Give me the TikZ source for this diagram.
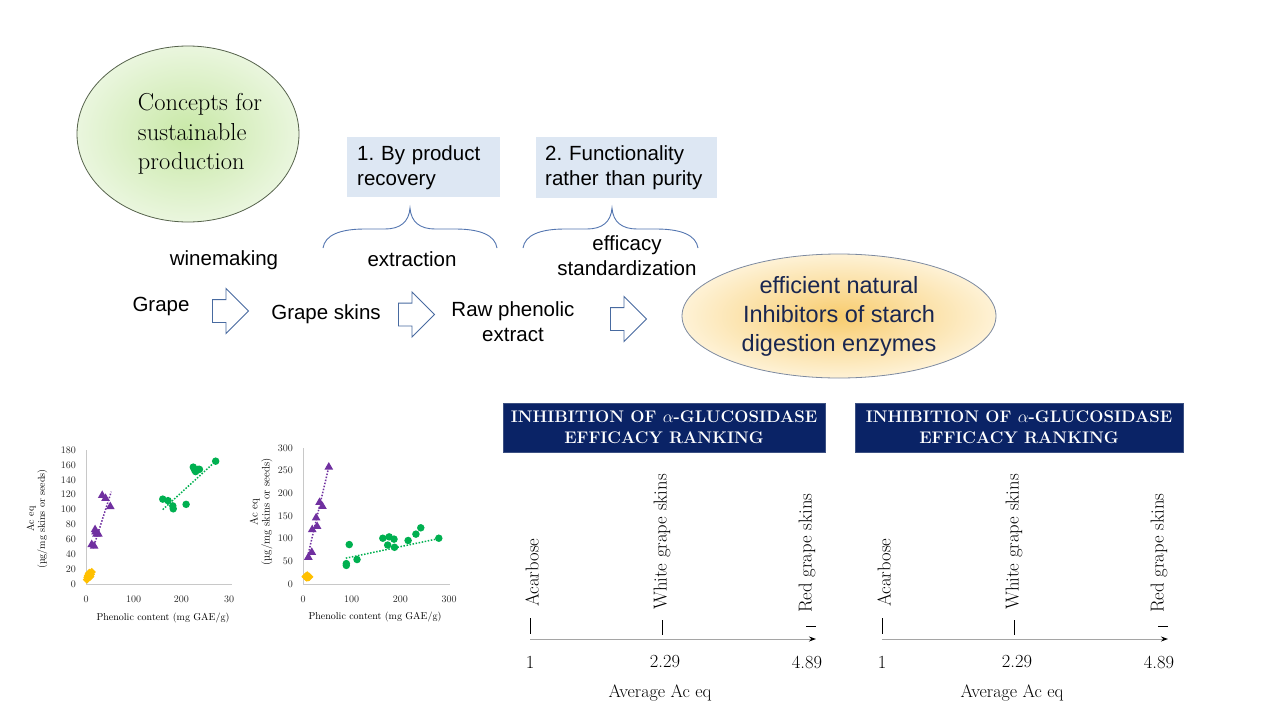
\documentclass[tikz,border=0pt]{standalone}
\usepackage{fontspec}
\newfontfamily\arialf{Liberation Sans}
\usetikzlibrary{shapes.geometric,shapes.arrows,arrows.meta}
\definecolor{navy}{RGB}{10,35,102}
\definecolor{navyborder}{RGB}{60,80,130}
\definecolor{boxblue}{RGB}{221,231,243}
\definecolor{braceblue}{RGB}{84,118,176}
\definecolor{arrowblue}{RGB}{72,106,160}
\definecolor{ptpurple}{RGB}{112,48,160}
\definecolor{ptgreen}{RGB}{0,176,80}
\definecolor{ptyellow}{RGB}{255,192,0}
\definecolor{axisgray}{RGB}{200,200,200}
\definecolor{rankgray}{RGB}{165,165,165}
\definecolor{ellgreenin}{RGB}{200,232,166}
\definecolor{ellgreenout}{RGB}{234,246,222}
\definecolor{greenborder}{RGB}{85,98,75}
\definecolor{ellorangein}{RGB}{248,204,110}
\definecolor{ellorangeout}{RGB}{254,242,214}
\definecolor{orangeborder}{RGB}{125,138,160}
\definecolor{inhibtext}{RGB}{25,38,80}
\frenchspacing
\begin{document}
\begin{tikzpicture}[x=1pt,y=-1pt,
  flowtext/.style={font=\arialf\fontsize{20.5}{25}\selectfont, align=center, inner sep=0pt},
  bluebox/.style={fill=boxblue, draw=none, align=left, inner xsep=10pt, inner ysep=0pt, anchor=north west, font=\arialf\fontsize{20.5}{25}\selectfont},
  bracestyle/.style={draw=braceblue, line width=0.9pt},
  blockarrow/.style={single arrow, draw=arrowblue, fill=white, line width=0.9pt, minimum height=36pt, inner xsep=0pt, inner ysep=11pt, single arrow head extend=11pt, single arrow tip angle=90, single arrow head indent=0pt, anchor=tail},
  axisline/.style={draw=axisgray, line width=0.8pt},
  ticklbl/.style={font=\fontsize{10}{12}\selectfont, inner sep=0pt, text=black!85},
  tri/.style={regular polygon, regular polygon sides=3, fill=ptpurple, inner sep=0pt, minimum size=10pt},
  dot/.style={circle, fill=ptgreen, inner sep=0pt, minimum size=7.5pt},
  dia/.style={diamond, fill=ptyellow, inner sep=0pt, minimum size=8.5pt},
  trendp/.style={draw=ptpurple, line width=1.5pt, dash pattern=on 1.5pt off 1.6pt},
  trendg/.style={draw=ptgreen, line width=1.5pt, dash pattern=on 1.5pt off 1.6pt},
  rankbox/.style={fill=navy, draw=navyborder, line width=0.8pt, text=white, align=center, minimum height=49pt, inner sep=0pt, font=\bfseries\fontsize{16.8}{21}\selectfont},
  ranklbl/.style={rotate=90, anchor=west, inner sep=0pt, font=\fontsize{18.7}{22}\selectfont},
  rankno/.style={inner sep=0pt, font=\fontsize{18.5}{22}\selectfont},
  rtick/.style={draw=black, line width=0.8pt}
]
\useasboundingbox[fill=white] (0,0) rectangle (1280,720);

% ---------- concept ellipse ----------
\node[ellipse, draw=greenborder, line width=0.8pt, inner color=ellgreenin, outer color=ellgreenout, minimum width=222pt, minimum height=176pt, inner sep=0pt] (concepts) at (188,134) {};
\node[align=left, inner sep=0pt, font=\fontsize{24.5}{29.5}\selectfont] (conceptstxt) at (200,134) {Concepts for\\sustainable\\production};

% ---------- blue boxes ----------
\node[bluebox, minimum width=153pt, minimum height=60pt, text width=133pt] (recovery) at (347,137) {1. By product\\recovery};
\node[bluebox, minimum width=181pt, minimum height=61pt, text width=163pt, inner xsep=9pt] (functionality) at (536,137) {2. Functionality\\rather than purity};

% ---------- braces ----------
\draw[bracestyle] (323,248) .. controls (325,235) and (340,229) .. (365,229) -- (385,229) .. controls (400,229) and (409,222) .. (410,208) .. controls (411,222) and (420,229) .. (435,229) -- (455,229) .. controls (480,229) and (495,235) .. (497,248);
\draw[bracestyle] (523,248) .. controls (525,235) and (540,229) .. (565,229) -- (587,229) .. controls (602,229) and (611,222) .. (612,208) .. controls (613,222) and (622,229) .. (637,229) -- (656,229) .. controls (681,229) and (696,235) .. (698,248);

% ---------- process labels ----------
\node[flowtext] (winemaking) at (224,260) {winemaking};
\node[flowtext] (extraction) at (412,259) {extraction};
\node[flowtext] (efficacy) at (627,256) {efficacy\\standardization};

% ---------- flow ----------
\node[flowtext] (grape) at (161,306) {Grape};
\node[blockarrow] (arr1) at (212,311) {};
\node[flowtext] (skins) at (326,314) {Grape skins};
\node[blockarrow] (arr2) at (398,314.5) {};
\node[flowtext] (raw) at (513,322) {Raw phenolic\\extract};
\node[blockarrow] (arr3) at (610,319) {};
\node[ellipse, draw=orangeborder, line width=0.8pt, inner color=ellorangein, outer color=ellorangeout, minimum width=314pt, minimum height=124pt, inner sep=0pt, align=center, text=inhibtext, font=\arialf\fontsize{23.5}{29}\selectfont] (inhib) at (839,316) {efficient natural\\Inhibitors of starch\\digestion enzymes};

% ---------- chart 1 ----------
\begin{scope}[xshift=86pt, yshift=-584pt, x=0.4767pt, y=0.7444pt]
  \coordinate (c1o) at (0,0);
  \coordinate (c1top) at (0,180);
  \coordinate (c1right) at (306,0);
  \draw[axisline] (c1top) -- (c1o) -- (c1right);
  \foreach \v in {0,20,...,180} \node[ticklbl, anchor=east, xshift=-10pt] (c1y\v) at (0,\v) {\v};
  \foreach \v/\t in {0/0,100/100,200/200,300/30} \node[ticklbl, yshift=-15pt] (c1x\v) at (\v,0) {\t};
  \foreach \px/\py [count=\i] in {2/6,3/9,5/12,7/15,9/10,12/16,4/11,6/14,10/13}
    \node[dia] (c1d\i) at (\px,\py) {};
  \foreach \px/\py [count=\i] in {34/119,41/115,51/104,19/73,22/67,26/67,12/53,17/51,20/70}
    \node[tri] (c1t\i) at (\px,\py) {};
  \foreach \px/\py [count=\i] in {161/114,172/112,182/105,183/101,210/107,225/157,228/153,235/154,238/154,272/165,230/151}
    \node[dot] (c1g\i) at (\px,\py) {};
  \coordinate (c1pa) at (15,48);
  \coordinate (c1pb) at (53,124);
  \coordinate (c1ga) at (161,100);
  \coordinate (c1gb) at (272,165);
  \draw[trendp] (c1pa) -- (c1pb);
  \draw[trendg] (c1ga) -- (c1gb);
\end{scope}
\node[rotate=90, align=center, inner sep=0pt, font=\fontsize{10}{11}\selectfont] (c1yt) at (37,519) {Ac eq\\(µg/mg skins or seeds)};
\node[inner sep=0pt, font=\fontsize{10}{12}\selectfont] (c1xt) at (163,618) {Phenolic content (mg GAE/g)};

% ---------- chart 2 ----------
\begin{scope}[xshift=303pt, yshift=-584pt, x=0.4867pt, y=0.4533pt]
  \coordinate (c2o) at (0,0);
  \coordinate (c2top) at (0,300);
  \coordinate (c2right) at (303,0);
  \draw[axisline] (c2top) -- (c2o) -- (c2right);
  \foreach \v in {0,50,...,300} \node[ticklbl, anchor=east, xshift=-10pt] (c2y\v) at (0,\v) {\v};
  \foreach \v in {0,100,200,300} \node[ticklbl, yshift=-15pt] (c2x\v) at (\v,0) {\v};
  \foreach \px/\py [count=\i] in {5/16,7/18,9/19,11/15,13/16,8/14}
    \node[dia] (c2d\i) at (\px,\py) {};
  \foreach \px/\py [count=\i] in {53/258,34/180,40/171,27/146,29/127,19/120,18/70,11/59}
    \node[tri] (c2t\i) at (\px,\py) {};
  \foreach \px/\py [count=\i] in {89/45,89/41,95/87,111/54,164/101,177/104,174/86,187/99,188/81,216/96,232/110,242/124,279/101}
    \node[dot] (c2g\i) at (\px,\py) {};
  \coordinate (c2pa) at (8,54);
  \coordinate (c2pb) at (53,258);
  \coordinate (c2ga) at (88,57);
  \coordinate (c2gb) at (278,100);
  \draw[trendp] (c2pa) -- (c2pb);
  \draw[trendg] (c2ga) -- (c2gb);
\end{scope}
\node[rotate=90, align=center, inner sep=0pt, font=\fontsize{11}{12}\selectfont] (c2yt) at (261,512) {Ac eq\\(µg/mg skins or seeds)};
\node[inner sep=0pt, font=\fontsize{10}{12}\selectfont] (c2xt) at (375,617) {Phenolic content (mg GAE/g)};

% ---------- ranking panels ----------
\node[rankbox, minimum width=322pt] (box1) at (664,427.5) {INHIBITION OF $\alpha$-GLUCOSIDASE\\EFFICACY RANKING};
\node[rankbox, minimum width=328pt] (box2) at (1019,427.5) {INHIBITION OF $\alpha$-GLUCOSIDASE\\EFFICACY RANKING};

\foreach \dx/\k in {0/a,352/b}{
  \begin{scope}[xshift=\dx pt]
    \coordinate (axs\k) at (530,639);
    \coordinate (axe\k) at (816,639);
    \draw[draw=rankgray, line width=1pt, -{Stealth[length=7pt,width=5pt,color=black]}] (axs\k) -- (axe\k);
    \draw[rtick] (530,618) -- (530,634);
    \draw[rtick] (662,620) -- (662,635);
    \draw[rtick] (806,626) -- (816,626);
    \node[ranklbl] (acar\k) at (532,607) {Acarbose};
    \node[ranklbl] (white\k) at (662,610) {White grape skins};
    \node[ranklbl] (red\k) at (807,613) {Red grape skins};
    \node[rankno] (na\k) at (530,662) {1};
    \node[rankno] (nb\k) at (665,662) {2.29};
    \node[rankno] (nc\k) at (807,662) {4.89};
    \node[rankno, font=\fontsize{18}{22}\selectfont] (avg\k) at (660,693) {Average Ac eq};
  \end{scope}
}
\end{tikzpicture}
\end{document}
